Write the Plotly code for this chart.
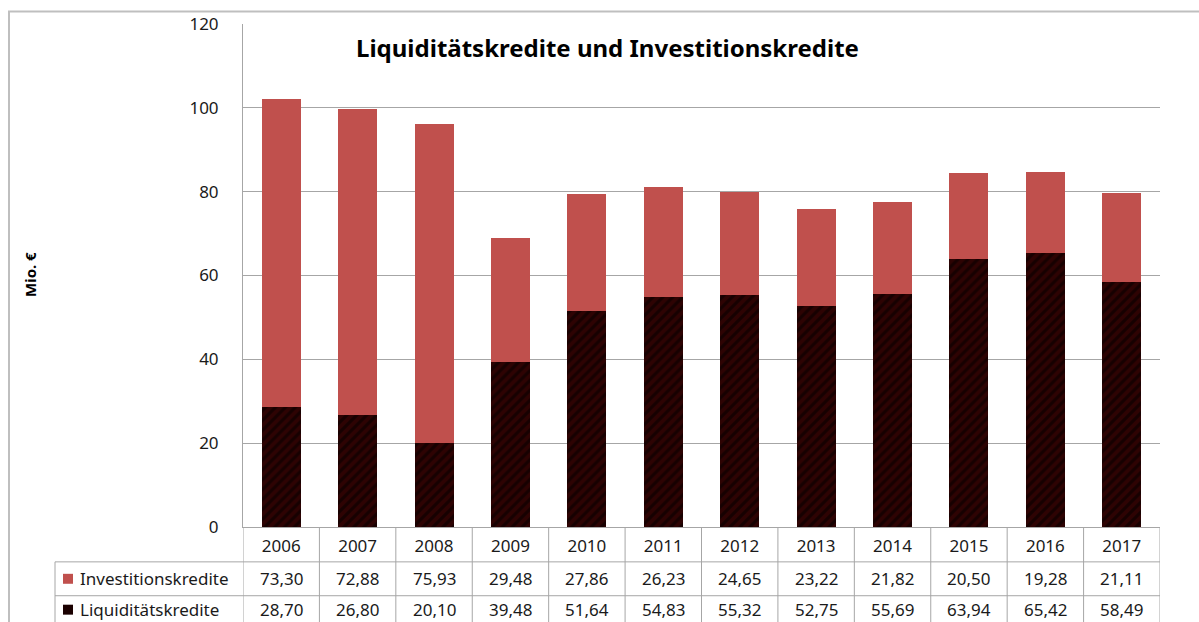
import plotly.graph_objects as go

years = ["2006", "2007", "2008", "2009", "2010", "2011", "2012", "2013", "2014", "2015", "2016", "2017"]
investitionskredite = [73.30, 72.88, 75.93, 29.48, 27.86, 26.23, 24.65, 23.22, 21.82, 20.50, 19.28, 21.11]
liquiditaetskredite = [28.70, 26.80, 20.10, 39.48, 51.64, 54.83, 55.32, 52.75, 55.69, 63.94, 65.42, 58.49]
y_ticks = [0, 20, 40, 60, 80, 100, 120]

RED = "#C0504D"
DARK = "#2E0303"
GRID = "#A6A6A6"
FRAME = "#BFBFBF"
TXT = "#1A1A1A"
FONT = "Noto Sans"

W, H = 1199, 622
L, R, T, B = 243, 39, 22, 95
pw, ph = W - L - R, H - T - B

def px_x(x):  # pixel -> paper x
    return (x - L) / pw

def px_y(y):  # pixel -> paper y
    return (H - B - y) / ph

fig = go.Figure()
fig.add_trace(go.Bar(
    x=years, y=liquiditaetskredite, name="Liquiditätskredite",
    marker=dict(color=DARK, line=dict(width=0),
                pattern=dict(shape="/", fgcolor="#000000", size=7, solidity=0.45)),
))
fig.add_trace(go.Bar(
    x=years, y=investitionskredite, name="Investitionskredite",
    marker=dict(color=RED, line=dict(width=0)),
))

shapes = []
ann = []

# outer frame
shapes.append(dict(type="line", xref="paper", yref="paper", x0=px_x(8), x1=px_x(1199),
                   y0=px_y(9.5), y1=px_y(9.5), line=dict(color=FRAME, width=2)))
shapes.append(dict(type="line", xref="paper", yref="paper", x0=px_x(9), x1=px_x(9),
                   y0=px_y(9.5), y1=px_y(640), line=dict(color=FRAME, width=2)))

# data table rows
row_edges = [527, 562, 596, 640]
row_centers = [579, 610]
n = len(years)
for i in range(n + 1):
    shapes.append(dict(type="line", xref="x", yref="paper", x0=i - 0.5, x1=i - 0.5,
                       y0=px_y(row_edges[0]), y1=px_y(row_edges[-1]),
                       line=dict(color=GRID, width=1)))
for e in row_edges[1:3]:
    shapes.append(dict(type="line", xref="paper", yref="paper", x0=px_x(55), x1=1,
                       y0=px_y(e), y1=px_y(e), line=dict(color=GRID, width=1)))
shapes.append(dict(type="line", xref="paper", yref="paper", x0=px_x(55), x1=px_x(55),
                   y0=px_y(562), y1=px_y(640), line=dict(color=GRID, width=1)))

rows = [("Investitionskredite", investitionskredite, RED),
        ("Liquiditätskredite", liquiditaetskredite, "#1A0000")]
for r, (label, vals, col) in enumerate(rows):
    cy = row_centers[r]
    shapes.append(dict(type="rect", xref="paper", yref="paper",
                       x0=px_x(63), x1=px_x(73), y0=px_y(cy - 5), y1=px_y(cy + 5),
                       fillcolor=col, line=dict(width=0)))
    ann.append(dict(text=label, xref="paper", yref="paper", x=px_x(78), y=px_y(cy),
                    xanchor="left", yanchor="middle", showarrow=False,
                    font=dict(family=FONT, size=17, color=TXT)))
    for i, v in enumerate(vals):
        ann.append(dict(text=f"{v:.2f}".replace(".", ","), xref="x", yref="paper",
                        x=i, y=px_y(cy), xanchor="center", yanchor="middle",
                        showarrow=False, font=dict(family=FONT, size=17, color=TXT)))

# title
ann.append(dict(text="<b>Liquiditätskredite und Investitionskredite</b>", xref="paper",
                yref="paper", x=px_x(607), y=px_y(46), xanchor="center", yanchor="middle",
                showarrow=False, font=dict(family=FONT, size=24, color="#000000")))
# y-axis title
ann.append(dict(text="<b>Mio. €</b>", xref="paper", yref="paper", x=px_x(30), y=px_y(274),
                xanchor="center", yanchor="middle", textangle=-90, showarrow=False,
                font=dict(family=FONT, size=15, color="#000000")))

fig.update_layout(
    width=W, height=H, margin=dict(l=L, r=R, t=T, b=B),
    paper_bgcolor="white", plot_bgcolor="white",
    barmode="stack", bargap=0.49, showlegend=False,
    shapes=shapes, annotations=ann,
    font=dict(family=FONT, color=TXT),
)
fig.update_xaxes(type="category", showgrid=False, showline=True, linecolor=GRID, linewidth=1,
                 ticks="", tickfont=dict(family=FONT, size=17, color=TXT),
                 ticklabelstandoff=4, range=[-0.5, n - 0.5])
fig.update_yaxes(range=[0, 120], tickvals=y_ticks, showgrid=True, gridcolor=GRID, gridwidth=1,
                 showline=True, linecolor=GRID, linewidth=1, zeroline=False, ticks="",
                 tickfont=dict(family=FONT, size=17, color=TXT), ticklabelstandoff=20)

fig.write_html("out.html")
